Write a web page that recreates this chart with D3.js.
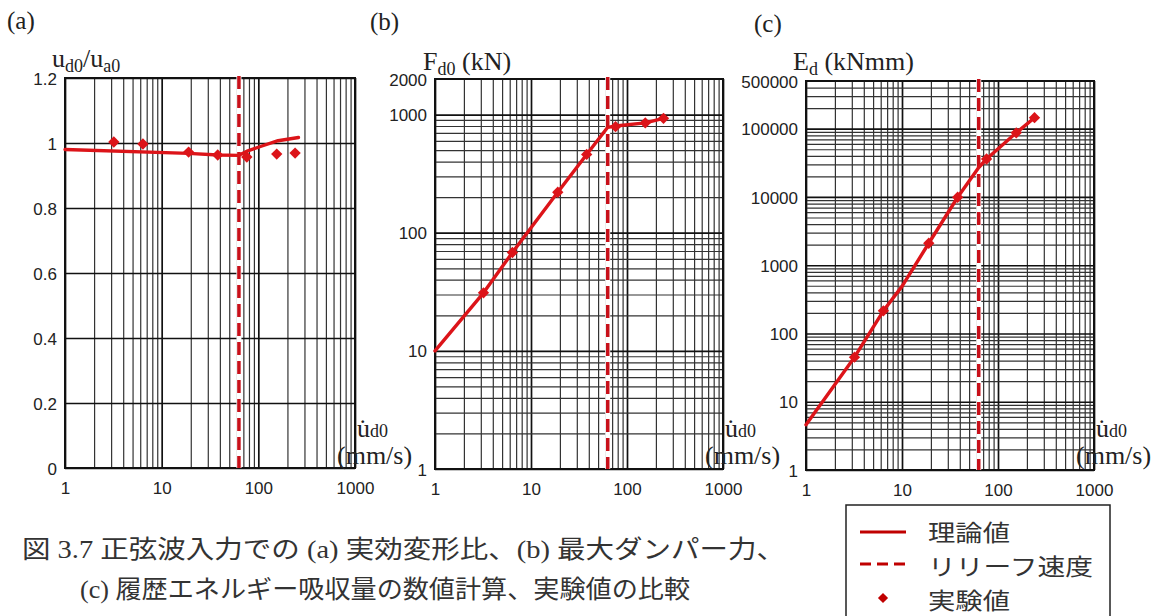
<!DOCTYPE html>
<html><head><meta charset="utf-8">
<script src="https://cdn.jsdelivr.net/npm/d3@7"></script>
<style>
html,body{margin:0;padding:0;background:#fff;}
svg{display:block;}
</style></head><body>
<svg id="chart" width="1159" height="616"></svg>
<script>
// ---------- data ----------
const xTickValues = [1, 10, 100, 1000];
const ratioTicks = [0, 0.2, 0.4, 0.6, 0.8, 1, 1.2];
const ratioTickLabels = ["0", "0.2", "0.4", "0.6", "0.8", "1", "1.2"];
const forceTicks = [1, 10, 100, 1000, 2000];
const energyTicks = [1, 10, 100, 1000, 10000, 100000, 500000];
const reliefSpeed = 63;
const expSpeed = [3.2, 6.4, 19, 38, 76, 155, 240];
const ratioExp = [1.003, 0.997, 0.972, 0.963, 0.957, 0.966, 0.969];
const forceExp = [31, 68, 220, 460, 790, 850, 930];
const energyExp = [45, 215, 2100, 9900, 36000, 87000, 145000];
const ratioTheorySpeed = [1, 19, 38, 63, 78, 107, 160, 260];
const ratioTheory = [0.98, 0.968, 0.963, 0.962, 0.976, 0.99, 1.007, 1.017];
const forceTheorySpeed = [1, 3.2, 6.4, 19, 38, 63, 76, 155, 240];
const forceTheory = [10, 31, 68, 220, 460, 780, 800, 850, 930];
const energyTheorySpeed = [1, 3.2, 6.4, 10, 19, 38, 63, 76, 155, 240];
const energyTheory = [4.6, 45, 215, 490, 2100, 9900, 27000, 36000, 87000, 145000];
const panelLetters = ["(a)", "(b)", "(c)"];
const legendLabels = ["理論値", "リリーフ速度", "実験値"];
const captionLines = ["図 3.7 正弦波入力での (a) 実効変形比、(b) 最大ダンパー力、",
                      "(c) 履歴エネルギー吸収量の数値計算、実験値の比較"];

// ---------- style ----------
const RED = "#dc1419";
const DARK_RED = "#c00000";
const SERIF = "'Liberation Serif','DejaVu Serif',serif";
const SANS = "'Liberation Sans',Arial,sans-serif";
const CJK = "'Liberation Serif','Noto Sans CJK JP',serif";

const svg = d3.select("#chart");

const panels = [
  { letter: panelLetters[0], box: [65, 78, 355, 468], yType: "linear", yDomain: [0, 1.2],
    yTicks: ratioTicks, yFmt: (d, i) => ratioTickLabels[i],
    thX: ratioTheorySpeed, thY: ratioTheory, exY: ratioExp,
    letterPos: [7, 29], titlePos: [52, 67],
    title: [["u", 0], ["d0", 1], ["/", 0], ["u", 0], ["a0", 1]] },
  { letter: panelLetters[1], box: [435, 79, 723, 469], yType: "log", yDomain: [1, 2000],
    yTicks: forceTicks, yFmt: d => String(d),
    thX: forceTheorySpeed, thY: forceTheory, exY: forceExp,
    letterPos: [370, 30], titlePos: [423, 70],
    title: [["F", 0], ["d0", 1], [" (kN)", 0]] },
  { letter: panelLetters[2], box: [806, 81, 1094, 470], yType: "log", yDomain: [1, 500000],
    yTicks: energyTicks, yFmt: d => String(d),
    thX: energyTheorySpeed, thY: energyTheory, exY: energyExp,
    letterPos: [754, 32], titlePos: [793, 70],
    title: [["E", 0], ["d", 1], [" (kNmm)", 0]] }
];

panels.forEach(p => {
  const [L, T, R, B] = p.box;
  const x = d3.scaleLog().domain([1, 1000]).range([L, R]);
  const y = (p.yType === "log" ? d3.scaleLog() : d3.scaleLinear()).domain(p.yDomain).range([B, T]);
  const g = svg.append("g");
  const isMajor = v => Math.abs(Math.log10(v) - Math.round(Math.log10(v))) < 1e-9;

  // vertical grid
  const vg = g.append("g").attr("transform", `translate(0,${B})`)
    .call(d3.axisBottom(x).tickValues(x.ticks()).tickSize(-(B - T)).tickFormat(""));
  vg.select(".domain").remove();
  vg.selectAll("line").attr("stroke", d => isMajor(d) ? "#111" : "#333")
    .attr("stroke-width", d => isMajor(d) ? 1.7 : 1.2);

  // horizontal grid
  const hVals = p.yType === "log" ? y.ticks() : p.yTicks;
  const hg = g.append("g").attr("transform", `translate(${L},0)`)
    .call(d3.axisLeft(y).tickValues(hVals).tickSize(-(R - L)).tickFormat(""));
  hg.select(".domain").remove();
  hg.selectAll("line").attr("stroke", d => (p.yType === "linear" || isMajor(d)) ? "#111" : "#333")
    .attr("stroke-width", d => (p.yType === "linear" || isMajor(d)) ? 1.7 : 1.2);

  // frame
  g.append("rect").attr("x", L).attr("y", T).attr("width", R - L).attr("height", B - T)
    .attr("fill", "none").attr("stroke", "#111").attr("stroke-width", 2);

  // x tick labels
  const xa = g.append("g").attr("transform", `translate(0,${B})`)
    .call(d3.axisBottom(x).tickValues(xTickValues).tickSize(0).tickFormat(d => String(d)));
  xa.select(".domain").remove();
  xa.selectAll("text").attr("y", 26).attr("dy", null)
    .attr("font-family", SANS).attr("font-size", 17).attr("fill", "#222");

  // y tick labels
  const ya = g.append("g").attr("transform", `translate(${L},0)`)
    .call(d3.axisLeft(y).tickValues(p.yTicks).tickSize(0).tickPadding(8).tickFormat(p.yFmt));
  ya.select(".domain").remove();
  ya.selectAll("text").attr("font-family", SANS).attr("font-size", 17).attr("fill", "#222")
    .attr("dy", "0.36em");

  // relief speed dashed line
  g.append("line").attr("x1", x(reliefSpeed)).attr("x2", x(reliefSpeed))
    .attr("y1", T - 2).attr("y2", B).attr("stroke", "#fff").attr("stroke-width", 5);
  g.append("line").attr("x1", x(reliefSpeed)).attr("x2", x(reliefSpeed))
    .attr("y1", T - 2).attr("y2", B).attr("stroke", "#c8101a").attr("stroke-width", 3.5)
    .attr("stroke-dasharray", "13,6");

  // theory line
  const line = d3.line().x(d => x(d[0])).y(d => y(d[1]));
  g.append("path").datum(d3.zip(p.thX, p.thY)).attr("d", line)
    .attr("fill", "none").attr("stroke", RED).attr("stroke-width", 3.4)
    .attr("stroke-linejoin", "round").attr("stroke-linecap", "round");

  // experiment markers
  g.selectAll(".mk").data(d3.zip(expSpeed, p.exY)).join("path")
    .attr("d", d3.symbol(d3.symbolSquare, 64))
    .attr("transform", d => `translate(${x(d[0])},${y(d[1])}) rotate(45)`)
    .attr("fill", RED);

  // panel letter
  g.append("text").attr("x", p.letterPos[0]).attr("y", p.letterPos[1])
    .attr("font-family", SERIF).attr("font-size", 25).attr("fill", "#222").text(p.letter);

  // y title
  const tt = g.append("text").attr("x", p.titlePos[0]).attr("y", p.titlePos[1])
    .attr("font-family", SERIF).attr("fill", "#222");
  let prevSub = 0;
  p.title.forEach(([s, sub]) => {
    tt.append("tspan").attr("font-size", sub ? 18 : 26)
      .attr("dy", (sub - prevSub) * 5).text(s);
    prevSub = sub;
  });

  // x title
  const xt = g.append("text").attr("x", R + 2).attr("y", 437)
    .attr("font-family", SERIF).attr("fill", "#222");
  xt.append("tspan").attr("font-size", 26).text("u\u0307");
  xt.append("tspan").attr("font-size", 18).text("d0");
  g.append("text").attr("x", R - 18).attr("y", 464)
    .attr("font-family", SERIF).attr("font-size", 26).attr("fill", "#222").text("(mm/s)");
});

// caption
svg.append("text").attr("x", 22).attr("y", 558).attr("font-family", CJK).attr("font-size", 25)
  .attr("fill", "#333").attr("textLength", 763).attr("lengthAdjust", "spacingAndGlyphs")
  .text(captionLines[0]);
svg.append("text").attr("x", 80).attr("y", 598).attr("font-family", CJK).attr("font-size", 25)
  .attr("fill", "#333").attr("textLength", 610).attr("lengthAdjust", "spacingAndGlyphs")
  .text(captionLines[1]);

// legend
const lg = svg.append("g");
lg.append("rect").attr("x", 846).attr("y", 505).attr("width", 264).attr("height", 140)
  .attr("fill", "#fff").attr("stroke", "#222").attr("stroke-width", 1.5);
const rows = [532, 566, 600];
const legendWidths = [82, 165, 82];
lg.append("line").attr("x1", 860).attr("x2", 906).attr("y1", rows[0]).attr("y2", rows[0])
  .attr("stroke", DARK_RED).attr("stroke-width", 3);
lg.append("line").attr("x1", 860).attr("x2", 906).attr("y1", rows[1] - 2).attr("y2", rows[1] - 2)
  .attr("stroke", DARK_RED).attr("stroke-width", 3).attr("stroke-dasharray", "11,6");
lg.append("path").attr("d", d3.symbol(d3.symbolSquare, 52))
  .attr("transform", `translate(883,${rows[2] - 2}) rotate(45)`).attr("fill", DARK_RED);
legendLabels.forEach((s, i) => {
  lg.append("text").attr("x", 928).attr("y", rows[i] + 9)
    .attr("font-family", "'Noto Sans CJK JP',sans-serif").attr("font-size", 23)
    .attr("textLength", legendWidths[i]).attr("lengthAdjust", "spacingAndGlyphs")
    .attr("fill", "#333").text(s);
});
</script>
</body></html>
